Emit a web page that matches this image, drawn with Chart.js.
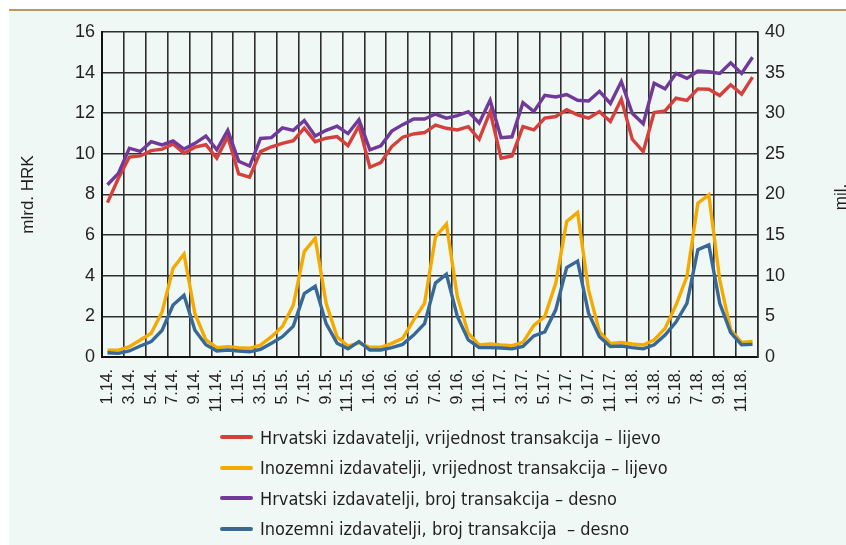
<!DOCTYPE html>
<html lang="hr">
<head>
<meta charset="utf-8">
<title>Transakcije karticama</title>
<script src="https://cdn.jsdelivr.net/npm/chart.js@4.4.0/dist/chart.umd.min.js"></script>
<style>
  html, body { margin: 0; padding: 0; background: #fff; }
  body { width: 846px; height: 545px; position: relative; overflow: hidden; }
  .panel {
    position: absolute; left: 9px; top: 9px; right: 0; bottom: 0;
    border-top: 2px solid #B99B62;
    background: #EFF8F4;
  }
  #chart { position: absolute; left: 0; top: 0; }
  .legend {
    position: absolute; left: 220px; top: 422px;
    font-family: "Liberation Sans Narrow", "DejaVu Sans Condensed", sans-serif;
    font-size: 18px; color: #231F20;
  }
  .legend div { height: 30.5px; display: flex; align-items: center; white-space: pre; }
  .legend span.swatch { display: inline-block; width: 33px; height: 4px; border-radius: 2px; margin-right: 7px; }
</style>
</head>
<body>
<div class="panel"></div>
<canvas id="chart" width="846" height="545"></canvas>
<div class="legend" id="legend"></div>

<script>
// Mjeseci 1.14. - 12.18.
const godine = ['14', '15', '16', '17', '18'];
const mjeseci = [];
godine.forEach(g => {
  for (let m = 1; m <= 12; m++) mjeseci.push(`${m}.${g}.`);
});

// Vrijednost transakcija, mlrd. HRK (lijeva os)
const hrvVrijednost = [
  7.6, 8.8, 9.84, 9.9, 10.16, 10.23, 10.49, 10.03, 10.33, 10.45, 9.79, 10.85,
  9.01, 8.85, 10.11, 10.35, 10.52, 10.65, 11.27, 10.6, 10.77, 10.85, 10.41, 11.38,
  9.34, 9.57, 10.36, 10.82, 10.98, 11.05, 11.42, 11.26, 11.18, 11.34, 10.72, 12.08,
  9.79, 9.9, 11.34, 11.18, 11.76, 11.84, 12.17, 11.92, 11.76, 12.08, 11.59, 12.69,
  10.72, 10.11, 12.04, 12.12, 12.74, 12.63, 13.2, 13.18, 12.87, 13.4, 12.94, 13.78,
];
const inoVrijednost = [
  0.34, 0.34, 0.51, 0.84, 1.17, 2.23, 4.37, 5.07, 2.13, 0.84, 0.46, 0.51,
  0.46, 0.43, 0.59, 1.0, 1.5, 2.56, 5.19, 5.85, 2.64, 1.0, 0.54, 0.7,
  0.48, 0.48, 0.67, 0.92, 1.82, 2.64, 5.9, 6.55, 2.97, 1.17, 0.59, 0.64,
  0.59, 0.56, 0.72, 1.56, 2.0, 3.63, 6.67, 7.11, 3.3, 1.25, 0.67, 0.71,
  0.64, 0.59, 0.84, 1.41, 2.56, 3.96, 7.57, 7.98, 3.8, 1.33, 0.72, 0.76,
];

// Broj transakcija, mil. (desna os)
const hrvBroj = [
  21.2, 22.6, 25.7, 25.3, 26.5, 26.1, 26.6, 25.6, 26.3, 27.2, 25.5, 27.9,
  24.1, 23.5, 26.9, 27.0, 28.2, 27.9, 29.1, 27.2, 27.9, 28.4, 27.5, 29.2,
  25.5, 26.0, 27.8, 28.6, 29.3, 29.3, 29.9, 29.4, 29.7, 30.2, 28.8, 31.6,
  27.0, 27.1, 31.3, 30.2, 32.2, 32.0, 32.3, 31.6, 31.5, 32.7, 31.2, 33.9,
  30.0, 28.7, 33.7, 33.0, 34.9, 34.3, 35.2, 35.1, 34.9, 36.2, 34.9, 36.9,
];
const inoBroj = [
  0.53, 0.45, 0.74, 1.35, 1.9, 3.3, 6.4, 7.6, 3.3, 1.5, 0.74, 0.86,
  0.74, 0.64, 0.95, 1.7, 2.5, 3.8, 7.8, 8.7, 4.1, 1.7, 1.0, 1.9,
  0.86, 0.86, 1.15, 1.55, 2.7, 4.1, 9.1, 10.2, 5.0, 2.1, 1.15, 1.15,
  1.1, 1.0, 1.3, 2.6, 3.1, 5.8, 11.0, 11.8, 5.4, 2.5, 1.3, 1.35,
  1.15, 1.0, 1.5, 2.7, 4.3, 6.6, 13.2, 13.8, 6.6, 3.0, 1.5, 1.55,
];

const serije = [
  { label: 'Hrvatski izdavatelji, vrijednost transakcija – lijevo', data: hrvVrijednost, cor: '#D6403C', os: 'y', red: 1 },
  { label: 'Inozemni izdavatelji, vrijednost transakcija – lijevo', data: inoVrijednost, cor: '#F5AA00', os: 'y', red: 1 },
  { label: 'Hrvatski izdavatelji, broj transakcija – desno', data: hrvBroj, cor: '#70399A', os: 'y1', red: 0 },
  { label: 'Inozemni izdavatelji, broj transakcija  – desno', data: inoBroj, cor: '#386896', os: 'y1', red: 0 },
];

const tekst = '#231F20';
const mreza = '#2E2E2E';
const fontFamily = "'Liberation Sans', Arial, sans-serif";

// Naslov desne osi (cita se odozdo prema gore, kao lijevi)
const desniNaslov = {
  id: 'desniNaslov',
  afterDraw(chart) {
    const c = chart.ctx;
    c.save();
    c.translate(846, 197);
    c.rotate(-Math.PI / 2);
    c.font = `17px ${fontFamily}`;
    c.fillStyle = tekst;
    c.textAlign = 'center';
    c.textBaseline = 'alphabetic';
    c.fillText('mil.', 0, 0);
    c.restore();
  },
};

const chart = new Chart(document.getElementById('chart'), {
  type: 'line',
  data: {
    labels: mjeseci,
    datasets: serije.map(s => ({
      label: s.label,
      data: s.data,
      borderColor: s.cor,
      backgroundColor: s.cor,
      borderWidth: 3.4,
      pointRadius: 0,
      tension: 0,
      yAxisID: s.os,
      order: s.red,
    })),
  },
  options: {
    responsive: false,
    animation: false,
    layout: { padding: { top: 32, bottom: 128, left: 0, right: 0 } },
    plugins: {
      legend: { display: false },
      tooltip: { enabled: false },
    },
    scales: {
      x: {
        offset: true,
        afterFit: s => { s.height = 60; },
        grid: {
          offset: true,
          drawTicks: false,
          lineWidth: 1.6,
          color: ctx => (ctx.index === undefined || ctx.index % 2 === 0 ? mreza : 'rgba(0,0,0,0)'),
        },
        border: { color: '#111', width: 2 },
        ticks: {
          autoSkip: false,
          maxRotation: 90,
          minRotation: 90,
          padding: 12,
          color: tekst,
          font: { size: 16, family: fontFamily },
          callback: (v, i) => (i % 2 === 0 ? mjeseci[i] : ''),
        },
      },
      y: {
        position: 'left',
        min: 0,
        max: 16,
        afterFit: s => { s.width = 102; },
        grid: { drawTicks: false, lineWidth: 1.6, color: mreza },
        border: { color: '#111', width: 2 },
        ticks: {
          stepSize: 2,
          padding: 7,
          color: tekst,
          font: { size: 18, family: fontFamily },
        },
        title: {
          display: true,
          text: 'mlrd. HRK',
          color: tekst,
          padding: { top: 18, bottom: 0 },
          font: { size: 17, family: fontFamily },
        },
      },
      y1: {
        position: 'right',
        min: 0,
        max: 40,
        afterFit: s => { s.width = 846 - 758; },
        grid: { display: false, drawTicks: false },
        border: { color: mreza, width: 1.6 },
        ticks: {
          stepSize: 5,
          padding: 7,
          color: tekst,
          font: { size: 18, family: fontFamily },
        },
      },
    },
  },
  plugins: [desniNaslov],
});

// Legenda (HTML), redom kao u izvorniku
const legenda = document.getElementById('legend');
serije.forEach(s => {
  const red = document.createElement('div');
  red.innerHTML = `<span class="swatch" style="background:${s.cor}"></span>${s.label}`;
  legenda.appendChild(red);
});
</script>
</body>
</html>
